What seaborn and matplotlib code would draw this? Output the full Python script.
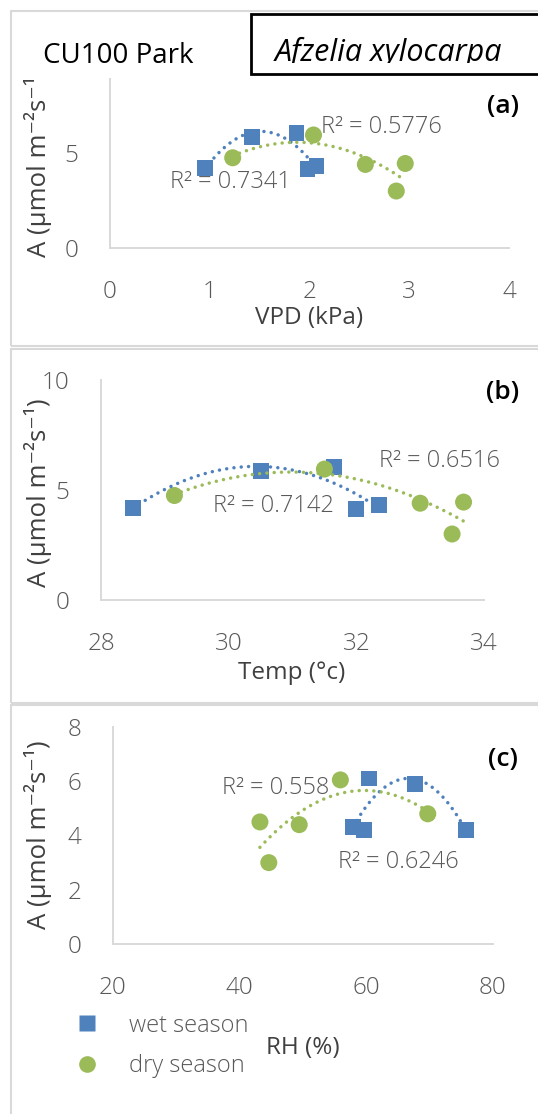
import numpy as np
import matplotlib
matplotlib.use("Agg")
import matplotlib.pyplot as plt
from matplotlib.patches import Rectangle
from matplotlib.lines import Line2D
from matplotlib.transforms import Bbox
import seaborn as sns

sns.set_style("white")
plt.rcParams["font.family"] = ["Open Sans", "DejaVu Sans"]

# photosynthesis (A) values for each season
wet_a = [4.2, 5.85, 6.05, 4.15, 4.3]
dry_a = [4.75, 5.95, 4.4, 3.0, 4.45]

# panel (a) VPD
wet_vpd = [0.95, 1.42, 1.87, 1.98, 2.07]
dry_vpd = [1.23, 2.04, 2.56, 2.87, 2.96]
# panel (b) temperature
wet_temp = [28.5, 30.5, 31.65, 32.0, 32.35]
dry_temp = [29.15, 31.5, 33.0, 33.5, 33.68]
# panel (c) relative humidity, A values paired separately
wet_rh = [57.9, 59.6, 60.4, 67.7, 75.8]
wet_rh_a = [4.3, 4.2, 6.1, 5.9, 4.2]
dry_rh = [43.2, 44.6, 49.4, 55.9, 69.7]
dry_rh_a = [4.5, 3.0, 4.4, 6.05, 4.8]

r2_a = ["R² = 0.7341", "R² = 0.5776"]
r2_b = ["R² = 0.7142", "R² = 0.6516"]
r2_c = ["R² = 0.6246", "R² = 0.558"]

BLUE = "#4F81BD"
GREEN = "#9BBB59"
GRAY = "#595959"
W, H = 538, 1114


def box(l, t, r, b):
    return [l / W, 1 - b / H, (r - l) / W, (b - t) / H]


def fx(p):
    return p / W


def fy(p):
    return 1 - p / H


fig = plt.figure(figsize=(W / 100, H / 100), dpi=100)

# panel frames
for top, bot in [(11, 346), (349, 703), (705, 1125)]:
    fig.patches.append(Rectangle((fx(11), fy(bot)), fx(560), (bot - top) / H,
                                 transform=fig.transFigure, fill=False,
                                 edgecolor="#D9D9D9", lw=1.5, zorder=0))

ax_a = fig.add_axes(box(110, 78, 509, 248))
ax_b = fig.add_axes(box(101, 380, 484, 600))
ax_c = fig.add_axes(box(113, 727, 493, 944))

line_kws = dict(ls=(0, (0.01, 2.1)), lw=2.5, dash_capstyle="round", zorder=4)

panels = [
    (ax_a, wet_vpd, wet_a, dry_vpd, dry_a),
    (ax_b, wet_temp, wet_a, dry_temp, dry_a),
    (ax_c, wet_rh, wet_rh_a, dry_rh, dry_rh_a),
]
for ax, wx, wy, dx, dy in panels:
    sns.scatterplot(x=wx, y=wy, marker="s", s=130, color=BLUE, edgecolor="none",
                    legend=False, ax=ax, zorder=3, clip_on=False)
    sns.scatterplot(x=dx, y=dy, marker="o", s=150, color=GREEN, edgecolor="none",
                    legend=False, ax=ax, zorder=3, clip_on=False)
    sns.regplot(x=wx, y=wy, order=2, ci=None, scatter=False, truncate=True,
                color=BLUE, line_kws=line_kws, ax=ax)
    sns.regplot(x=dx, y=dy, order=2, ci=None, scatter=False, truncate=True,
                color=GREEN, line_kws=line_kws, ax=ax)
    for s in ["top", "right"]:
        ax.spines[s].set_visible(False)
    for s in ["left", "bottom"]:
        ax.spines[s].set_color("#D9D9D9")
        ax.spines[s].set_linewidth(1.4)
    ax.tick_params(length=0, labelsize=17.5, labelcolor=GRAY)
    ax.tick_params(axis="x", pad=23)
    ax.tick_params(axis="y", pad=23)
    ax.set_facecolor("none")

ax_a.set_xlim(0, 4)
ax_a.set_ylim(0, 8.95)
ax_a.set_xticks([0, 1, 2, 3, 4])
ax_a.set_yticks([0, 5])
ax_b.set_xlim(28, 34)
ax_b.set_ylim(0, 10)
ax_b.set_xticks([28, 30, 32, 34])
ax_b.set_yticks([0, 5, 10])
ax_c.set_xlim(20, 80)
ax_c.set_ylim(0, 8)
ax_c.set_xticks([20, 40, 60, 80])
ax_c.set_yticks([0, 2, 4, 6, 8])
for ax in (ax_a, ax_b, ax_c):
    for t in ax.get_xticklabels() + ax.get_yticklabels():
        t.set_fontweight("light")

# axis labels
ylab = "A (μmol m⁻²s⁻¹)"
for ax, xl, xc, xy, yc in [(ax_a, "VPD (kPa)", 309, 318, 163),
                           (ax_b, "Temp (°c)", 292, 673, 493),
                           (ax_c, "RH (%)", 303, 1048, 835)]:
    ax.set_xlabel(xl, fontsize=17.5, color="#404040")
    ax.xaxis.set_label_coords(fx(xc), fy(xy), transform=fig.transFigure)
    ax.xaxis.label.set_va("center")
    ax.set_ylabel(ylab, fontsize=18.5, color="#404040")
    ax.yaxis.set_label_coords(fx(38), fy(yc), transform=fig.transFigure)
    ax.yaxis.label.set_va("center")

# R squared labels
rkw = dict(fontsize=17, color=GRAY, fontweight="light", va="center", ha="left", clip_on=False)
ax_a.text(0.6, 3.45, r2_a[0], **rkw)
ax_a.text(2.12, 6.37, r2_a[1], **rkw)
ax_b.text(29.76, 4.27, r2_b[0], **rkw)
ax_b.text(32.36, 6.32, r2_b[1], **rkw)
ax_c.text(55.5, 3.03, r2_c[0], **rkw)
ax_c.text(37.2, 5.76, r2_c[1], **rkw)

# panel tags
for lab, yy in [("(a)", 107), ("(b)", 392), ("(c)", 760)]:
    fig.text(fx(503), fy(yy), lab, fontsize=19, fontweight="semibold",
             color="black", ha="center", va="center")

# cover above panel (a) plot area, then titles
fig.patches.append(Rectangle((fx(14), fy(78)), fx(236), 64 / H, transform=fig.transFigure,
                             facecolor="white", edgecolor="none", zorder=5))
fig.text(fx(43), fy(56), "CU100 Park", fontsize=20, color="black",
         ha="left", va="center", zorder=6)
fig.patches.append(Rectangle((fx(251), fy(74)), fx(320), 60 / H, transform=fig.transFigure,
                             facecolor="white", edgecolor="black", lw=2, zorder=5))
title = fig.text(fx(388), fy(52), "Afzelia xylocarpa", fontsize=22, style="italic",
                 color="black", ha="center", va="center", zorder=6)
title.set_clip_box(Bbox.from_extents(fx(251) * W, fy(63) * H, W, fy(16) * H))
title.set_clip_on(True)

# legend
handles = [Line2D([], [], ls="none", marker="s", markersize=11.2, color=BLUE, mec="none"),
           Line2D([], [], ls="none", marker="o", markersize=12, color=GREEN, mec="none")]
leg = ax_c.legend(handles, ["wet season", "dry season"], loc="center left",
                  bbox_to_anchor=(fx(75), fy(1046)), bbox_transform=fig.transFigure,
                  frameon=False, fontsize=17, handlelength=1.0, handletextpad=1.3,
                  labelspacing=0.7, borderpad=0, borderaxespad=0)
for t in leg.get_texts():
    t.set_color(GRAY)
    t.set_fontweight("light")

fig.savefig("out.png", dpi=100)
